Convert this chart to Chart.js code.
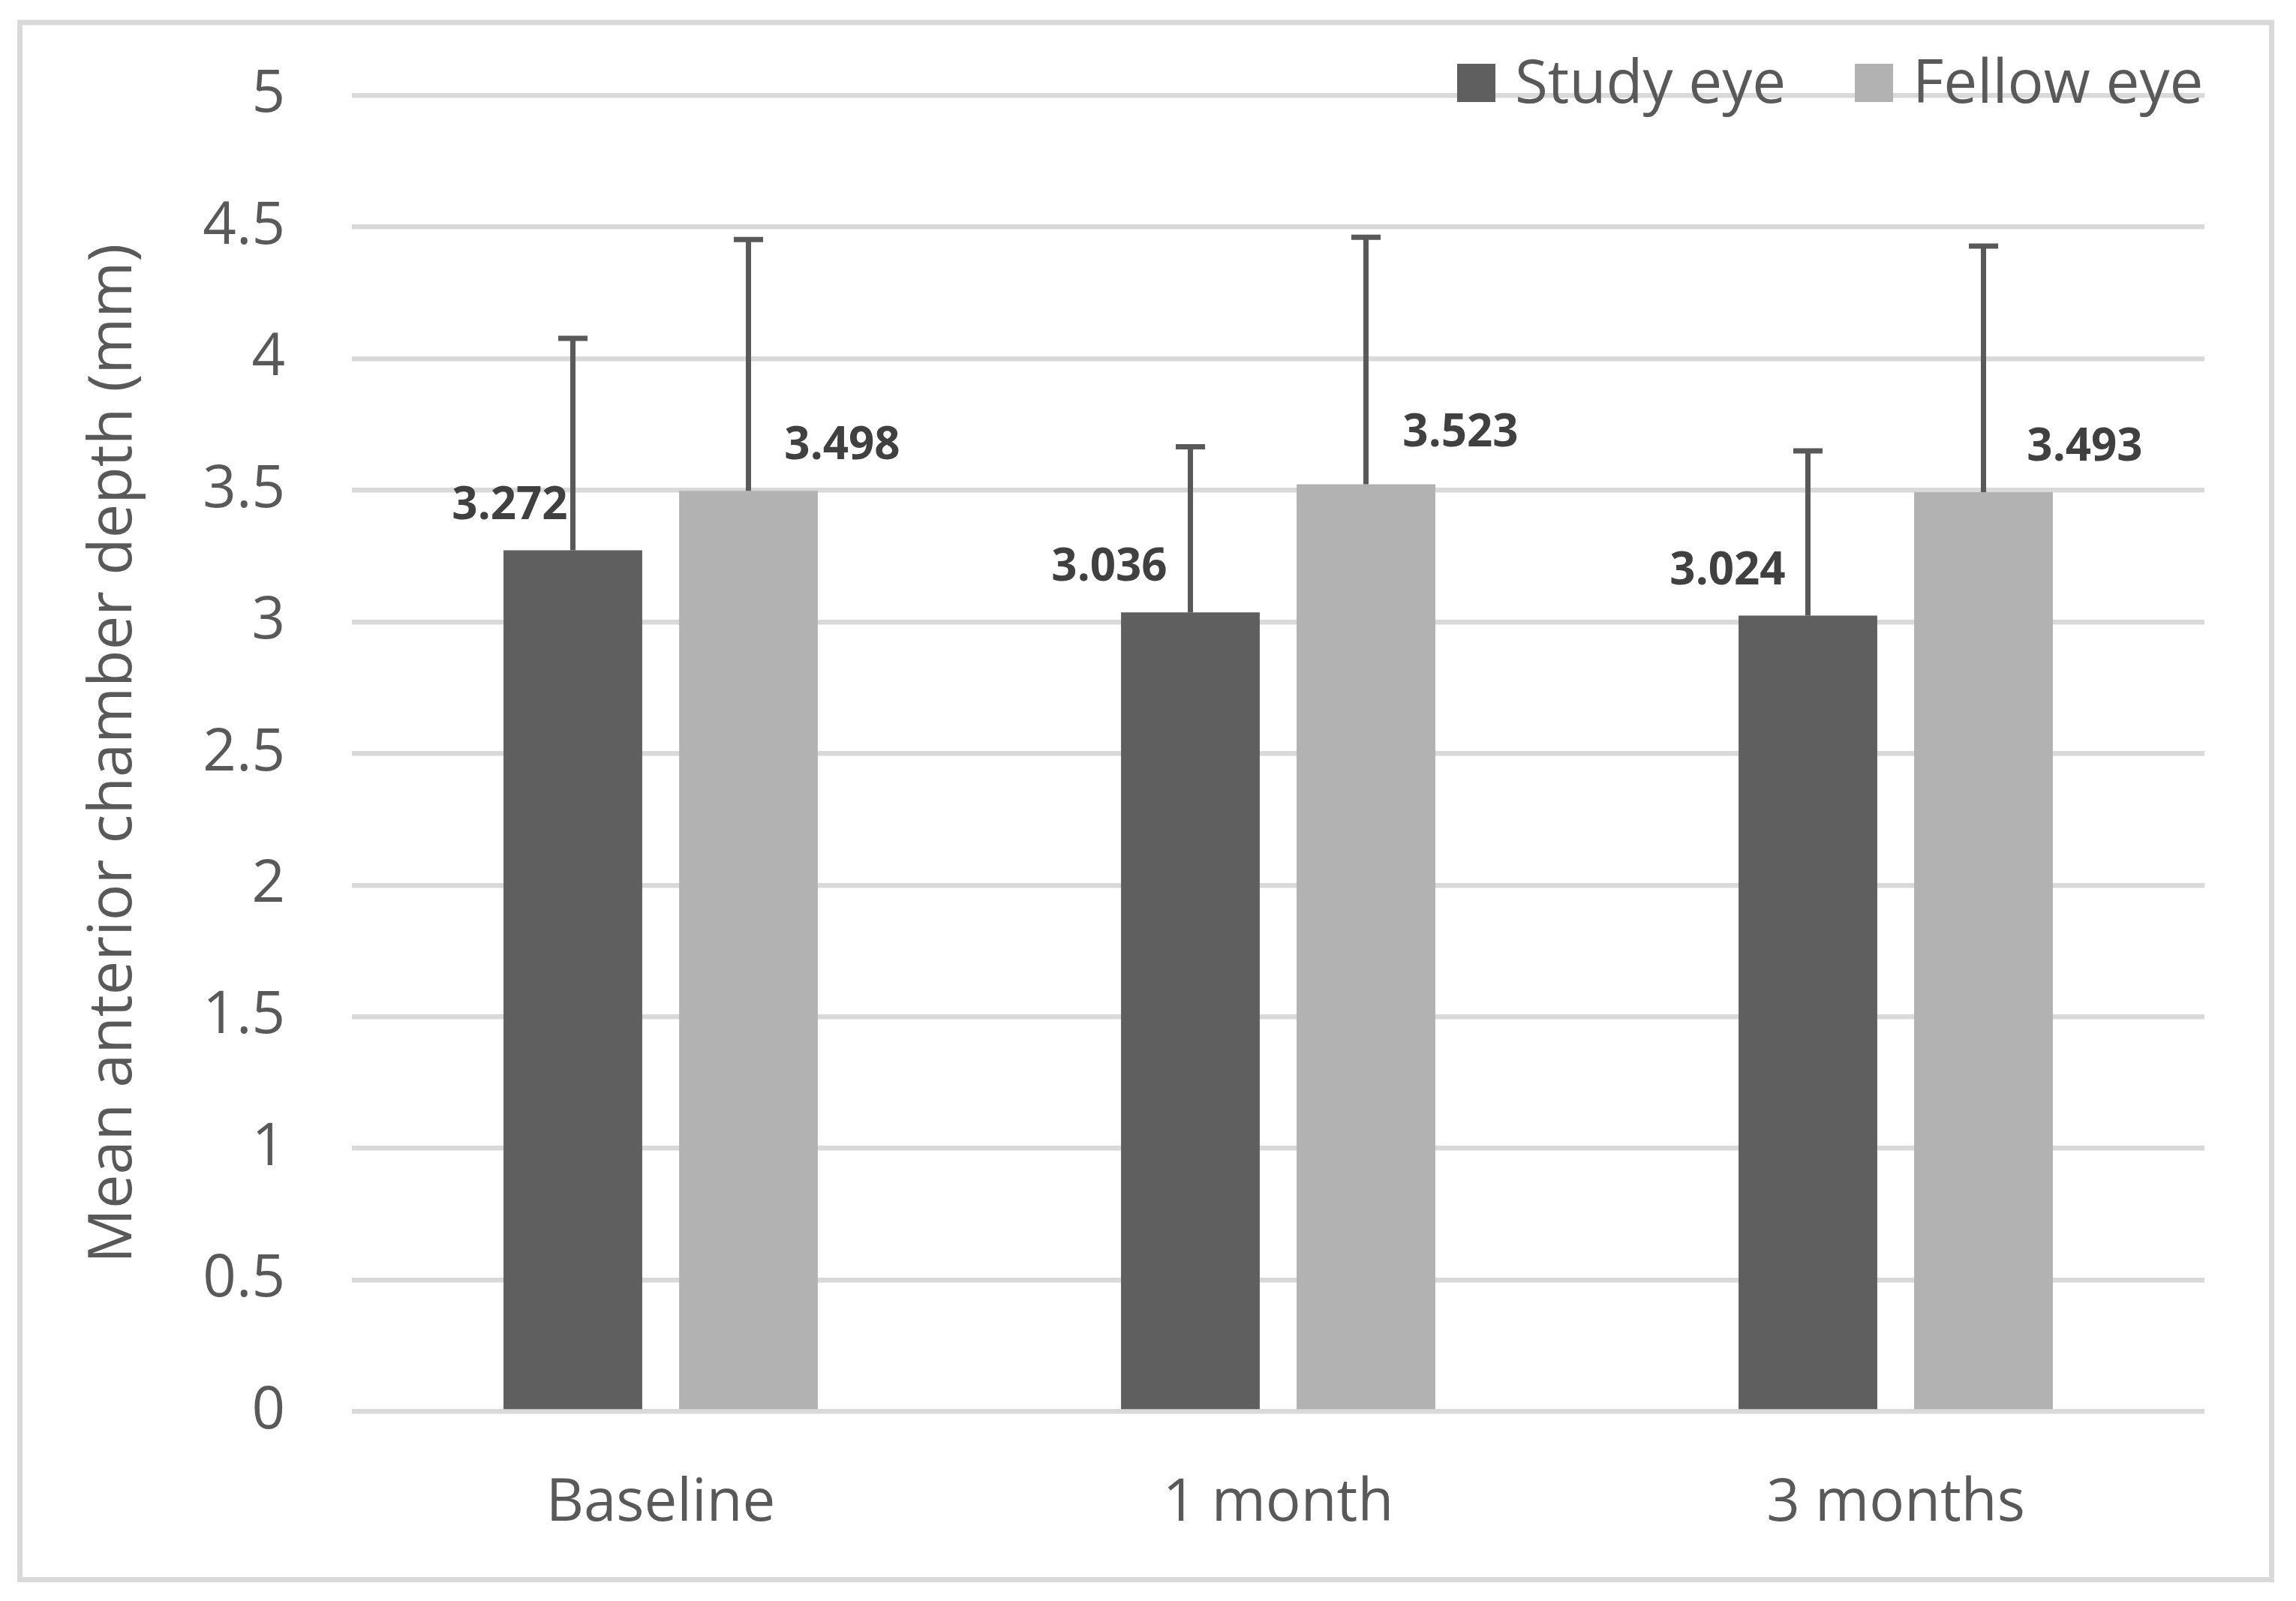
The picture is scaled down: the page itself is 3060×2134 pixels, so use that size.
<!DOCTYPE html>
<html>
<head>
<meta charset="utf-8">
<title>Mean anterior chamber depth</title>
<script src="https://cdn.jsdelivr.net/npm/chart.js@4.4.1/dist/chart.umd.min.js"></script>
<style>
  html, body { margin: 0; padding: 0; background: #fff; }
  #wrap { position: relative; width: 3060px; height: 2134px; }
</style>
</head>
<body>
<div id="wrap"><canvas id="acd-chart"></canvas></div>
<script>
// --- data ---
const categories = ['Baseline', '1 month', '3 months'];
const studyEye = [3.272, 3.036, 3.024];
const fellowEye = [3.498, 3.523, 3.493];
// positive error bars (SD)
const studySD = [0.805, 0.629, 0.626];
const fellowSD = [0.955, 0.938, 0.935];

// label nudges (px) – the labels were moved by hand in the original
const labelDx = [[-84, -108, -107], [125, 126, 135]];
const labelDy = [[-59, -59, -59], [-59, -68, -59]];

const FONT = '"Open Sans", "Liberation Sans", sans-serif';
const TEXT = '#595959';
const GRID = '#d9d9d9';

// border round the whole chart
const frame = {
  id: 'frame',
  beforeDraw(chart) {
    const ctx = chart.ctx;
    ctx.save();
    ctx.fillStyle = '#fff';
    ctx.fillRect(0, 0, chart.width, chart.height);
    ctx.strokeStyle = GRID;
    ctx.lineWidth = 7;
    ctx.strokeRect(26.5, 30, 3001, 2075.5);
    ctx.restore();
  }
};

// plus-only error bars, then value labels
const errorBars = {
  id: 'errorBars',
  afterDatasetsDraw(chart) {
    const ctx = chart.ctx;
    const y = chart.scales.y;
    ctx.save();
    chart.data.datasets.forEach((ds, i) => {
      const meta = chart.getDatasetMeta(i);
      meta.data.forEach((bar, j) => {
        const top = y.getPixelForValue(ds.data[j] + ds.sd[j]);
        ctx.strokeStyle = '#595959';
        ctx.lineWidth = 7;
        ctx.beginPath();
        ctx.moveTo(bar.x, bar.y);
        ctx.lineTo(bar.x, top);
        ctx.moveTo(bar.x - 19.5, top);
        ctx.lineTo(bar.x + 19.5, top);
        ctx.stroke();
      });
    });
    ctx.font = 'bold 60px ' + FONT;
    ctx.fillStyle = '#404040';
    ctx.textAlign = 'center';
    ctx.textBaseline = 'middle';
    chart.data.datasets.forEach((ds, i) => {
      chart.getDatasetMeta(i).data.forEach((bar, j) => {
        ctx.fillText(ds.data[j].toFixed(3), bar.x + labelDx[i][j], bar.y + labelDy[i][j]);
      });
    });
    ctx.restore();
  }
};

// legend sits over the top gridline, top right
const overlayLegend = {
  id: 'overlayLegend',
  afterDraw(chart) {
    const ctx = chart.ctx;
    const xs = [1942, 2472];
    ctx.save();
    ctx.font = '80px ' + FONT;
    ctx.textBaseline = 'alphabetic';
    ctx.textAlign = 'left';
    chart.data.datasets.forEach((ds, i) => {
      ctx.fillStyle = ds.backgroundColor;
      ctx.fillRect(xs[i], 85, 51, 51);
      ctx.fillStyle = TEXT;
      ctx.fillText(ds.label, xs[i] + 77, 137);
    });
    ctx.restore();
  }
};

new Chart(document.getElementById('acd-chart'), {
  type: 'bar',
  data: {
    labels: categories,
    datasets: [
      { label: 'Study eye', data: studyEye, sd: studySD, backgroundColor: '#5f5f5f' },
      { label: 'Fellow eye', data: fellowEye, sd: fellowSD, backgroundColor: '#b2b2b2' }
    ]
  },
  options: {
    responsive: true,
    maintainAspectRatio: false,
    devicePixelRatio: 1,
    animation: false,
    categoryPercentage: 0.5687,
    barPercentage: 0.79,
    layout: { padding: { left: 0, right: 122, top: 127, bottom: 0 } },
    plugins: {
      legend: { display: false },
      tooltip: { enabled: false }
    },
    scales: {
      x: {
        grid: { display: false },
        border: { display: false },
        ticks: { font: { family: FONT, size: 78 }, color: TEXT, padding: 68 },
        afterFit: s => { s.height = 252.5; }
      },
      y: {
        min: 0,
        max: 5,
        grid: { color: GRID, lineWidth: 6.5, drawTicks: false },
        border: { display: false },
        ticks: {
          stepSize: 0.5,
          // small line height so the top label does not push the plot down
          font: { family: FONT, size: 78, lineHeight: 0.98 },
          color: TEXT,
          padding: 89,
          callback: v => String(v)
        },
        title: {
          display: true,
          text: 'Mean anterior chamber depth (mm)',
          font: { family: FONT, size: 81 },
          color: TEXT,
          padding: { top: 103, bottom: 0 }
        },
        afterFit: s => { s.width = 469; }
      }
    }
  },
  plugins: [frame, errorBars, overlayLegend]
});
</script>
</body>
</html>
